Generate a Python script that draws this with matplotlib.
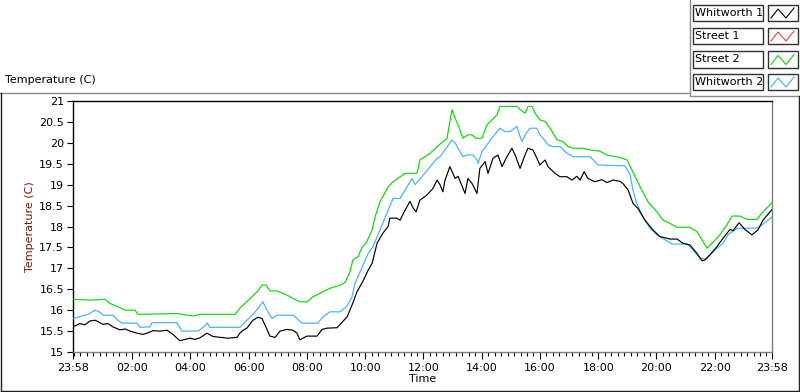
import matplotlib
matplotlib.use("Agg")
import matplotlib.pyplot as plt
from matplotlib.lines import Line2D
from matplotlib.patches import Rectangle
import numpy as np

plt.rcParams['font.family'] = ['DejaVu Sans']

# ---------------- data (hours elapsed since 23:58) ----------------
series_names = ["Whitworth 1", "Street 1", "Street 2", "Whitworth 2"]
series_colors = ["#000000", "#ff3b3b", "#00e000", "#3cb4f5"]

whitworth1_t = [0.00, 0.24, 0.41, 0.58, 0.76, 0.93, 1.03, 1.20, 1.37, 1.61, 1.79, 1.96, 2.20, 2.40,
                2.58, 2.75, 2.99, 3.23, 3.43, 3.67, 3.85, 4.02, 4.19, 4.36, 4.60, 4.81, 5.05, 5.32,
                5.63, 5.73, 5.84, 5.97, 6.18, 6.35, 6.49, 6.59, 6.76, 6.94, 7.11, 7.35, 7.55, 7.69,
                7.79, 8.03, 8.38, 8.55, 8.72, 9.06, 9.17, 9.41, 9.58, 9.75, 9.96, 10.13, 10.27, 10.44,
                10.64, 10.82, 10.88, 11.12, 11.23, 11.40, 11.57, 11.67, 11.78, 11.91, 12.15, 12.36,
                12.50, 12.60, 12.70, 12.77, 12.94, 13.12, 13.22, 13.39, 13.46, 13.56, 13.70, 13.87,
                13.97, 14.15, 14.25, 14.42, 14.59, 14.73, 14.90, 15.07, 15.18, 15.35, 15.52, 15.62,
                15.79, 15.93, 16.03, 16.21, 16.31, 16.55, 16.72, 16.96, 17.13, 17.30, 17.41, 17.55,
                17.68, 17.92, 18.16, 18.33, 18.54, 18.78, 18.88, 19.06, 19.23, 19.40, 19.64, 19.91,
                20.15, 20.50, 20.74, 20.94, 21.18, 21.42, 21.60, 21.70, 21.87, 22.11, 22.32, 22.56,
                22.66, 22.87, 23.07, 23.31, 23.52, 23.69, 23.93, 24.00]
whitworth1_v = [15.60, 15.68, 15.65, 15.74, 15.76, 15.70, 15.66, 15.68, 15.60, 15.53, 15.55, 15.50, 15.45, 15.42,
                15.46, 15.51, 15.50, 15.52, 15.42, 15.27, 15.30, 15.33, 15.30, 15.34, 15.45, 15.37, 15.35, 15.33,
                15.35, 15.45, 15.52, 15.57, 15.76, 15.83, 15.80, 15.65, 15.38, 15.35, 15.50, 15.54, 15.52, 15.45,
                15.29, 15.38, 15.38, 15.54, 15.57, 15.58, 15.66, 15.84, 16.12, 16.44, 16.70, 16.95, 17.12, 17.60,
                17.84, 18.00, 18.20, 18.20, 18.15, 18.39, 18.60, 18.45, 18.35, 18.63, 18.75, 18.91,
                19.11, 19.00, 18.83, 19.10, 19.43, 19.15, 19.20, 18.91, 18.79, 19.15, 19.03, 18.79,
                19.39, 19.55, 19.27, 19.63, 19.71, 19.43, 19.67, 19.87, 19.71, 19.39, 19.71, 19.87,
                19.83, 19.63, 19.47, 19.59, 19.43, 19.27, 19.19, 19.19, 19.11, 19.20, 19.11, 19.31,
                19.15, 19.07, 19.12, 19.05, 19.11, 19.08, 19.03, 18.87, 18.55, 18.43, 18.15, 17.92,
                17.76, 17.70, 17.70, 17.60, 17.56, 17.36, 17.18, 17.20, 17.32, 17.52, 17.72, 17.93,
                17.90, 18.09, 17.93, 17.80, 17.92, 18.15, 18.35, 18.40]

street1_t = []
street1_v = []

street2_t = [0.00, 0.58, 1.10, 1.27, 1.55, 1.79, 2.13, 2.23, 3.57, 4.12, 4.36, 5.56, 5.73, 6.08, 6.32,
             6.49, 6.63, 6.76, 7.00, 7.35, 7.55, 7.79, 8.03, 8.24, 8.58, 8.82, 9.17, 9.34, 9.51, 9.61,
             9.79, 9.92, 10.06, 10.27, 10.37, 10.54, 10.82, 10.99, 11.40, 11.81, 11.91, 12.26, 12.60,
             12.84, 13.01, 13.12, 13.22, 13.39, 13.56, 13.70, 13.84, 14.04, 14.21, 14.39, 14.56, 14.66,
             15.24, 15.35, 15.52, 15.62, 15.76, 15.86, 16.03, 16.21, 16.38, 16.62, 16.82, 17.00, 17.17,
             17.51, 17.75, 18.09, 18.33, 18.78, 19.02, 19.19, 19.47, 19.74, 20.05, 20.26, 20.43, 20.74,
             21.18, 21.42, 21.60, 21.77, 21.94, 22.21, 22.45, 22.63, 22.90, 23.14, 23.48, 23.69, 24.00]
street2_v = [16.26, 16.24, 16.26, 16.16, 16.08, 16.00, 16.00, 15.90, 15.92, 15.86, 15.90, 15.90, 16.05, 16.28, 16.44,
             16.60, 16.60, 16.46, 16.46, 16.36, 16.28, 16.20, 16.20, 16.32, 16.44, 16.52, 16.60, 16.66, 16.92, 17.20,
             17.28, 17.50, 17.60, 17.92, 18.23, 18.59, 18.95, 19.07, 19.27, 19.27, 19.59, 19.75, 19.97,
             20.10, 20.79, 20.59, 20.43, 20.11, 20.19, 20.19, 20.11, 20.11, 20.43, 20.55, 20.67, 20.87,
             20.87, 20.79, 20.71, 20.87, 20.87, 20.71, 20.55, 20.51, 20.35, 20.07, 20.03, 19.91, 19.87,
             19.87, 19.83, 19.80, 19.71, 19.65, 19.59, 19.35, 18.95, 18.59, 18.35, 18.15, 18.10, 17.98,
             17.98, 17.88, 17.68, 17.48, 17.60, 17.80, 18.04, 18.25, 18.25, 18.17, 18.17, 18.35, 18.57]

whitworth2_t = [0.00, 0.24, 0.52, 0.76, 0.93, 1.03, 1.37, 1.55, 1.68, 2.20, 2.30, 2.64, 2.71, 3.57, 3.74,
                4.29, 4.53, 4.60, 4.70, 5.73, 5.97, 6.18, 6.35, 6.52, 6.66, 6.83, 7.00, 7.55, 7.69, 7.86,
                8.41, 8.58, 8.82, 9.17, 9.41, 9.58, 9.68, 9.85, 9.96, 10.13, 10.30, 10.54, 10.82, 10.99,
                11.23, 11.47, 11.64, 11.74, 11.98, 12.26, 12.50, 12.60, 12.77, 13.01, 13.12, 13.22, 13.39,
                13.53, 13.73, 13.87, 13.91, 14.04, 14.21, 14.42, 14.66, 14.83, 15.00, 15.24, 15.35, 15.42,
                15.52, 15.69, 15.93, 16.03, 16.14, 16.31, 16.48, 16.72, 16.96, 17.17, 17.75, 17.92, 18.03,
                18.95, 19.12, 19.23, 19.36, 19.57, 19.81, 20.05, 20.33, 20.57, 21.08, 21.29, 21.53, 21.70,
                22.04, 22.32, 22.49, 22.80, 23.48, 23.66, 24.00]
whitworth2_v = [15.80, 15.85, 15.90, 16.00, 15.95, 15.88, 15.88, 15.75, 15.69, 15.69, 15.59, 15.60, 15.70, 15.70, 15.50,
                15.50, 15.62, 15.70, 15.59, 15.59, 15.76, 15.90, 16.04, 16.20, 16.00, 15.80, 15.88, 15.88, 15.80, 15.69,
                15.69, 15.84, 15.96, 15.96, 16.10, 16.32, 16.64, 16.90, 17.08, 17.35, 17.52, 17.92, 18.39, 18.67,
                18.67, 18.95, 19.15, 19.00, 19.19, 19.43, 19.63, 19.67, 19.83, 20.07, 20.00, 19.87, 19.67,
                19.71, 19.71, 19.59, 19.51, 19.79, 19.95, 20.15, 20.35, 20.27, 20.27, 20.39, 20.15, 20.03,
                20.19, 20.35, 20.35, 20.19, 20.11, 19.95, 19.91, 19.91, 19.75, 19.67, 19.67, 19.55, 19.47,
                19.45, 19.25, 18.87, 18.55, 18.23, 17.96, 17.80, 17.68, 17.58, 17.58, 17.44, 17.24, 17.22,
                17.44, 17.60, 17.80, 17.96, 17.96, 18.04, 18.23]

x_tick_labels = ["23:58", "02:00", "04:00", "06:00", "08:00", "10:00", "12:00",
                 "14:00", "16:00", "18:00", "20:00", "22:00", "23:58"]
y_ticks = [15, 15.5, 16, 16.5, 17, 17.5, 18, 18.5, 19, 19.5, 20, 20.5, 21]

# ---------------- figure ----------------
W, H = 800, 392
fig = plt.figure(figsize=(W / 100, H / 100), dpi=100, facecolor="white")


def fx(x):
    return x / W


def fy(y):
    return 1 - y / H


ax = fig.add_axes([fx(73), fy(352), fx(772) - fx(73), fy(101) - fy(352)])
ax.set_facecolor("white")

data = [(whitworth1_t, whitworth1_v), (street1_t, street1_v),
        (street2_t, street2_v), (whitworth2_t, whitworth2_v)]
order = [2, 3, 1, 0]
for i in order:
    t, v = data[i]
    ax.plot(t, v, color=series_colors[i], lw=0.85, zorder=3 + (i == 0))

ax.set_xlim(0, 24)
ax.set_ylim(15, 21)

major = [0] + [2 + 2 / 60 + 2 * k for k in range(11)] + [24]
ax.set_xticks(major)
ax.set_xticklabels(x_tick_labels)
minor = [m for m in np.arange(2 + 2 / 60 - 9 * (2 / 9), 24.001, 2 / 9)
         if m >= 0 and min(abs(m - q) for q in major) > 0.02]
ax.set_xticks(minor, minor=True)
ax.set_yticks(y_ticks)
ax.set_yticklabels([("%g" % v) for v in y_ticks])

ax.tick_params(axis="both", which="major", direction="out", labelsize=8,
               length=4.5, width=0.8, pad=2, colors="black")
ax.tick_params(axis="x", which="major", length=5, pad=3)
ax.tick_params(axis="x", which="minor", direction="out", length=3, width=0.8)

for s in ["top", "left"]:
    ax.spines[s].set_color("black")
    ax.spines[s].set_linewidth(1.0)
for s in ["right", "bottom"]:
    ax.spines[s].set_color("#7f7f7f")
    ax.spines[s].set_linewidth(1.0)

ax.set_xlabel("Time", fontsize=8, labelpad=1)
ax.set_ylabel("Temperature (C)", fontsize=8, color="#7a1616", labelpad=3)

fig.text(fx(5), fy(80), "Temperature (C)", fontsize=8, ha="left", va="center")

# panel frame
frame = dict(transform=fig.transFigure, lw=1.0)
fig.add_artist(Line2D([fx(0), fx(689)], [fy(92.5), fy(92.5)], color="#8a8a8a", **frame))
fig.add_artist(Line2D([fx(689.5), fx(689.5)], [fy(0), fy(95)], color="#8a8a8a", **frame))
fig.add_artist(Line2D([fx(689.5), fx(800)], [fy(95.5), fy(95.5)], color="#8a8a8a", **frame))
fig.add_artist(Line2D([fx(1), fx(1)], [fy(92.5), fy(391)], color="#202020", **frame))
fig.add_artist(Line2D([fx(1), fx(799)], [fy(390.5), fy(390.5)], color="#202020", **frame))
fig.add_artist(Line2D([fx(798.5), fx(798.5)], [fy(95.5), fy(391)], color="#202020", **frame))

# legend (manual, LabVIEW style)
row_y = [13, 36, 59.5, 82]
for name, col, yc in zip(series_names, series_colors, row_y):
    fig.add_artist(Rectangle((fx(692.5), fy(yc + 8)), fx(762.5) - fx(692.5), fy(yc - 8) - fy(yc + 8),
                             transform=fig.transFigure, fill=True, facecolor="white",
                             edgecolor="#303030", lw=1.0))
    fig.add_artist(Rectangle((fx(767.5), fy(yc + 8)), fx(797.5) - fx(767.5), fy(yc - 8) - fy(yc + 8),
                             transform=fig.transFigure, fill=True, facecolor="white",
                             edgecolor="#303030", lw=1.0))
    fig.text(fx(695), fy(yc), name, fontsize=8, ha="left", va="center")
    zx = [fx(771), fx(778), fx(786), fx(794)]
    zy = [fy(yc + 5), fy(yc - 4), fy(yc + 5), fy(yc - 5)]
    fig.add_artist(Line2D(zx, zy, color=col, lw=0.8, transform=fig.transFigure))

fig.savefig("out.png", dpi=100, facecolor="white")
